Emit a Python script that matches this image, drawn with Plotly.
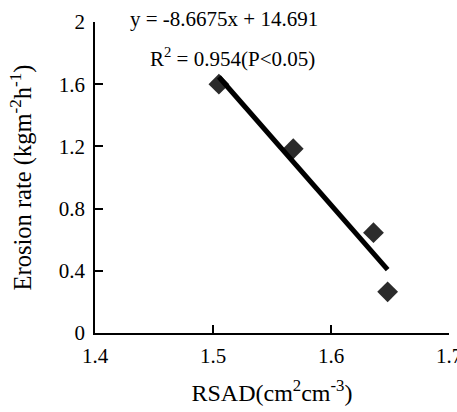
import plotly.graph_objects as go

rsad = [1.505, 1.568, 1.636, 1.648]
erosion = [1.60, 1.185, 0.645, 0.265]
slope = [-8.6675]
intercept = [14.691]
x_ticks = [1.4, 1.5, 1.6, 1.7]
x_tick_labels = ["1.4", "1.5", "1.6", "1.7"]
y_ticks = [0, 0.4, 0.8, 1.2, 1.6, 2.0]
y_tick_labels = ["0", "0.4", "0.8", "1.2", "1.6", "2"]

fit_x = [min(rsad), max(rsad)]
fit_y = [slope[0] * v + intercept[0] for v in fit_x]

font = "Liberation Serif, Times New Roman, serif"

W, H = 457, 412
L, R, T, B = 95, 8, 22, 79

fig = go.Figure()
fig.add_trace(go.Scatter(x=rsad, y=erosion, mode="markers",
                         marker=dict(symbol="diamond", size=16, color="#2b2b2b"),
                         showlegend=False, cliponaxis=False))
fig.add_trace(go.Scatter(x=fit_x, y=fit_y, mode="lines",
                         line=dict(color="black", width=5),
                         showlegend=False))

fig.update_layout(
    width=W, height=H,
    margin=dict(l=L, r=R, t=T, b=B),
    plot_bgcolor="white", paper_bgcolor="white",
    font=dict(family=font, size=21, color="black"),
    xaxis=dict(range=[1.4, 1.7], tickvals=x_ticks, ticktext=x_tick_labels,
               automargin=False,
               showgrid=False, zeroline=False, showline=True, linecolor="black",
               linewidth=1.5, ticks="inside", ticklen=8, tickwidth=1.5, tickcolor="black",
               ticklabelstandoff=3, ticklabeloverflow="allow",
               title=dict(text="RSAD(cm<sup>2</sup>cm<sup>-3</sup>)", standoff=17,
                          font=dict(size=24))),
    yaxis=dict(range=[0, 2], tickvals=y_ticks, ticktext=y_tick_labels,
               automargin=False,
               showgrid=False, zeroline=False, showline=True, linecolor="black",
               linewidth=1.5, ticks="inside", ticklen=8, tickwidth=1.5, tickcolor="black",
               ticklabelstandoff=4, ticklabeloverflow="allow",
               title=dict(text="Erosion rate (kgm<sup>-2</sup>h<sup>-1</sup>)", standoff=20,
                          font=dict(size=24.5))),
)
pw, ph = W - L - R, H - T - B
def px2paper(px, py):
    return (px - L) / pw, 1 - (py - T) / ph
ax1, ay1 = px2paper(224, 19)
ax2, ay2 = px2paper(232, 58)
fig.add_annotation(text="y = -8.6675x + 14.691", x=ax1, y=ay1, xref="paper", yref="paper",
                   xanchor="center", yanchor="middle",
                   showarrow=False, font=dict(size=21))
fig.add_annotation(text="R<sup>2</sup> = 0.954(P<0.05)", x=ax2, y=ay2, xref="paper", yref="paper",
                   xanchor="center", yanchor="middle",
                   showarrow=False, font=dict(size=21))
fig.write_html("out.html", config={"displayModeBar": False},
               post_script="document.body.style.margin='0';document.body.style.overflow='hidden';")
